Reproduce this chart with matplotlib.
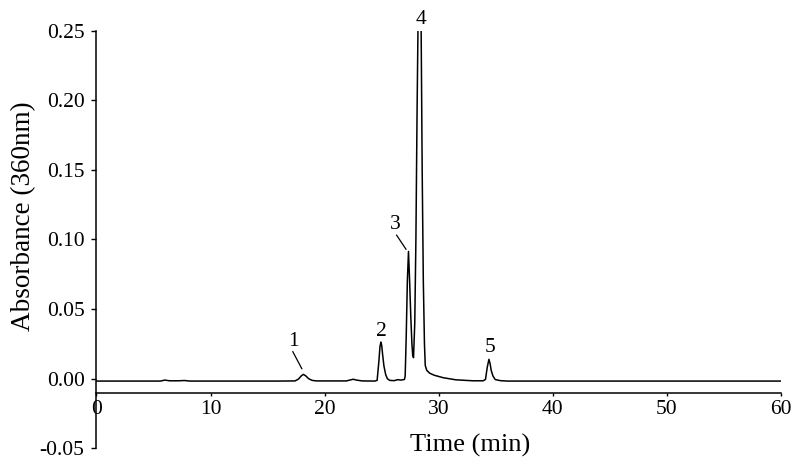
import matplotlib
matplotlib.use("Agg")
import matplotlib.pyplot as plt

plt.rcParams['font.family'] = ['Liberation Serif', 'DejaVu Serif']
plt.rcParams['axes.unicode_minus'] = False

# chromatogram trace (time in min, absorbance at 360 nm)
time = [0, 5.6, 6.0, 6.4, 7.2, 7.7, 8.2, 12, 16, 17.4, 17.7, 17.95, 18.14, 18.35,
        18.6, 18.9, 19.3, 21.9, 22.3, 22.5, 22.8, 23.3, 24.4, 24.6, 24.75, 24.85,
        24.93, 25.0, 25.1, 25.2, 25.35, 25.5, 25.7, 26.1, 26.4, 26.7, 27.0, 27.06,
        27.15, 27.25, 27.35, 27.45, 27.55, 27.65, 27.72, 27.79, 27.9, 28.0, 28.1,
        28.18, 28.32, 28.46, 28.55, 28.65, 28.75, 28.82, 28.95, 29.2, 29.6, 30.4,
        31.5, 33.0, 33.9, 34.1, 34.25, 34.4, 34.5, 34.6, 34.75, 34.95, 35.4, 36,
        45, 60]
absorb = [-0.0017, -0.0017, -0.0010, -0.0015, -0.0015, -0.0013, -0.0017, -0.0017,
          -0.0017, -0.0016, -0.0003, 0.0020, 0.0031, 0.0020, 0.0000, -0.0012,
          -0.0016, -0.0016, -0.0008, -0.0004, -0.0010, -0.0016, -0.0017, -0.0012,
          0.012, 0.023, 0.0263, 0.024, 0.016, 0.009, 0.003, 0.0000, -0.0012,
          -0.0014, -0.0007, -0.0010, -0.0005, 0.002, 0.030, 0.070, 0.0914, 0.070,
          0.045, 0.025, 0.017, 0.0151, 0.040, 0.100, 0.190, 0.250, 0.400, 0.250,
          0.150, 0.070, 0.025, 0.0095, 0.0060, 0.0040, 0.0025, 0.0007, -0.0008,
          -0.0015, -0.0015, -0.0005, 0.008, 0.0139, 0.011, 0.006, 0.002, -0.0006,
          -0.0014, -0.0017, -0.0017, -0.0017]

# peak labels
peak_names = ['1', '2', '3', '4', '5']
label_x = [17.24, 25.0, 26.16, 28.46, 34.46]
label_y = [0.027, 0.0336, 0.111, 0.258, 0.0223]

# leader lines for peaks 1 and 3
leader_x = [[17.21, 18.0], [26.31, 27.13]]
leader_y = [[0.0194, 0.0072], [0.1031, 0.0930]]

x_ticks = [0, 10, 20, 30, 40, 50, 60]
y_ticks = [-0.05, 0.00, 0.05, 0.10, 0.15, 0.20, 0.25]
y_tick_labels = ['-0.05', '0.00', '0.05', '0.10', '0.15', '0.20', '0.25']

fig = plt.figure(figsize=(8, 4.72), dpi=100)
ax = fig.add_axes([0.1206, 0.0502, 0.8556, 0.8848])

ax.plot(time, absorb, color='black', lw=1.1)
for lx, ly in zip(leader_x, leader_y):
    ax.plot(lx, ly, color='black', lw=0.9)
for name, x, y in zip(peak_names, label_x, label_y):
    ax.text(x, y, name, ha='center', va='center', fontsize=15.5)

ax.set_xlim(0, 60)
ax.set_ylim(-0.05, 0.25)
ax.spines['top'].set_visible(False)
ax.spines['right'].set_visible(False)
ax.spines['bottom'].set_position(('data', -0.01))
ax.spines['left'].set_linewidth(1.1)
ax.spines['bottom'].set_linewidth(1.1)

ax.set_xticks(x_ticks)
ax.set_yticks(y_ticks)
ax.set_yticklabels(y_tick_labels)
ax.tick_params(axis='x', direction='out', length=2.3, width=1.0, pad=3, labelsize=15.5)
ax.tick_params(axis='y', direction='out', length=3.6, width=1.0, pad=5, labelsize=15.5)

fig.text(470 / 800, 1 - 452 / 472, 'Time (min)', ha='center', va='baseline', fontsize=19)
fig.text(23.5 / 800, 1 - 216 / 472, 'Absorbance (360nm)', ha='center', va='center',
         rotation=90, fontsize=19.5)

fig.savefig('out.png', dpi=100)
